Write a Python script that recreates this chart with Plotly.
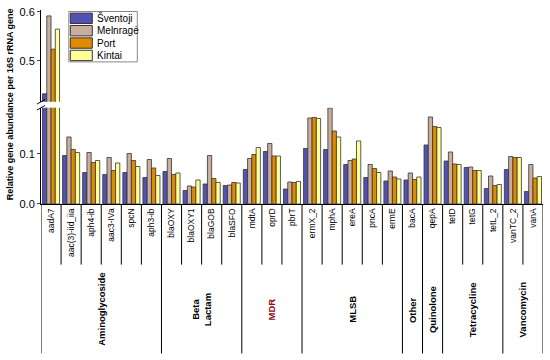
import plotly.graph_objects as go

genes = ["aadA7", "aac(3)-iid_iia", "aph4-ib", "aac3-IVa", "spcN", "aph3-ib",
         "blaOXY", "blaOXY1", "blaGOB", "blaSFO",
         "mdtA", "oprD", "pbrT",
         "ermX_2", "mphA", "ereA", "pncA", "ermE",
         "bacA", "qepA", "tetD", "tetG", "tetL_2", "vanTC_2", "vanA"]
groups = ["Aminoglycoside", "Beta<br>Lactam", "MDR", "MLSB", "Other",
          "Quinolone", "Tetracycline", "Vancomycin"]
group_sizes = [6, 4, 3, 5, 1, 1, 3, 2]

sites = ["Šventoji", "Melnragė", "Port", "Kintai"]
sventoji = [0.433, 0.097, 0.063, 0.059, 0.063, 0.053, 0.065, 0.027, 0.040, 0.037,
            0.069, 0.105, 0.030, 0.111, 0.109, 0.079, 0.053, 0.046, 0.048, 0.118,
            0.086, 0.073, 0.031, 0.069, 0.025]
melnrage = [0.592, 0.134, 0.103, 0.093, 0.101, 0.089, 0.091, 0.036, 0.097, 0.038,
            0.091, 0.121, 0.044, 0.172, 0.192, 0.087, 0.079, 0.066, 0.062, 0.174,
            0.104, 0.074, 0.056, 0.095, 0.079]
port = [0.524, 0.109, 0.083, 0.067, 0.087, 0.072, 0.059, 0.034, 0.051, 0.043,
        0.099, 0.096, 0.043, 0.173, 0.146, 0.090, 0.071, 0.054, 0.049, 0.155,
        0.080, 0.067, 0.037, 0.093, 0.052]
kintai = [0.565, 0.103, 0.087, 0.082, 0.075, 0.057, 0.062, 0.048, 0.043, 0.042,
          0.113, 0.096, 0.045, 0.171, 0.134, 0.126, 0.063, 0.050, 0.054, 0.153,
          0.079, 0.067, 0.039, 0.093, 0.055]
series = [sventoji, melnrage, port, kintai]
colors = ["#5252b4", "#c9ae9e", "#e08a00", "#ffff99"]

FONT = "Liberation Sans, Arial, sans-serif"

# figure geometry (page body margin removed below, so figure px == page px)
W, H = 550, 360
ML, MR, MT, MB = 40.7, 7.3, 10, 155.7
PW, PH = W - ML - MR, H - MT - MB


def px_x(x):  # figure px -> paper
    return (x - ML) / PW


def px_y(y):
    return (H - MB - y) / PH


fig = go.Figure()
for name, vals, col in zip(sites, series, colors):
    for ax in ("y", "y2"):
        fig.add_trace(go.Bar(
            x=genes, y=vals, name=name, yaxis=ax, showlegend=False,
            marker=dict(color=col, line=dict(color="#333333", width=0.8)),
        ))

shapes = []
annotations = []
n = len(genes)
starts = [0]
for s in group_sizes:
    starts.append(starts[-1] + s)
for i in range(n + 1):
    long = i in starts
    shapes.append(dict(type="line", xref="x", yref="paper",
                       x0=i - 0.5, x1=i - 0.5, y0=0,
                       y1=px_y(354) if long else px_y(265),
                       line=dict(color="black", width=1)))

for g, s0, sz in zip(groups, starts[:-1], group_sizes):
    c = s0 + (sz - 1) / 2
    annotations.append(dict(
        x=c, y=px_y(310), xref="x", yref="paper", text="<b>%s</b>" % g,
        showarrow=False, textangle=-90, xanchor="center", yanchor="middle",
        font=dict(size=9.5, family=FONT, color="#8b1010" if g == "MDR" else "black")))

annotations.append(dict(
    x=px_x(10), y=px_y(104), xref="paper", yref="paper",
    xanchor="center", yanchor="middle",
    text="<b>Relative gene abundance per 16S rRNA gene</b>",
    showarrow=False, textangle=-90, font=dict(size=9.0, family=FONT, color="black")))

# axis break marks
for yy in (0.496, 0.527):
    shapes.append(dict(type="line", xref="paper", yref="paper",
                       x0=-0.008, x1=0.008, y0=yy - 0.012, y1=yy + 0.012,
                       line=dict(color="black", width=1)))

# legend box
shapes.append(dict(type="rect", xref="paper", yref="paper",
                   x0=px_x(68.5), x1=px_x(137), y0=px_y(62), y1=px_y(11.5),
                   line=dict(color="#888888", width=1), fillcolor="white"))
for k, (name, col) in enumerate(zip(sites, colors)):
    yc = 18.3 + 12.4 * k
    shapes.append(dict(type="rect", xref="paper", yref="paper",
                       x0=px_x(70), x1=px_x(92), y0=px_y(yc + 5.2), y1=px_y(yc - 5.2),
                       line=dict(color="#333333", width=1), fillcolor=col))
    annotations.append(dict(x=px_x(95), y=px_y(yc), xref="paper", yref="paper",
                            text=name, showarrow=False, xanchor="left", yanchor="middle",
                            font=dict(size=10, family=FONT, color="black")))

fig.update_layout(
    width=W, height=H,
    margin=dict(l=ML, r=MR, t=MT, b=MB),
    plot_bgcolor="white", paper_bgcolor="white",
    barmode="group", bargap=0.15, bargroupgap=0,
    font=dict(family=FONT, color="black"),
    showlegend=False,
    xaxis=dict(type="category", tickangle=-90, showline=True, linecolor="black",
               linewidth=1, ticks="", tickfont=dict(size=8.5, family=FONT),
               showgrid=False, range=[-0.5, n - 0.5]),
    yaxis=dict(domain=[0, 0.496], range=[0, 0.1924], tickvals=[0, 0.1],
               ticktext=["0.0", "0.1"], showline=True, linecolor="black",
               ticks="outside", ticklen=3, showgrid=False, zeroline=False,
               tickfont=dict(size=11, family=FONT)),
    yaxis2=dict(domain=[0.527, 1], range=[0.4167, 0.604], tickvals=[0.5, 0.6],
                ticktext=["0.5", "0.6"], showline=True, linecolor="black",
                ticks="outside", ticklen=3, showgrid=False, zeroline=False,
                anchor="x", tickfont=dict(size=11, family=FONT),
                ticklabeloverflow="allow"),
    shapes=shapes, annotations=annotations,
)

fig.write_html("out.html",
               config={"displayModeBar": False},
               post_script="document.body.style.margin='0';document.body.style.overflow='hidden';")
